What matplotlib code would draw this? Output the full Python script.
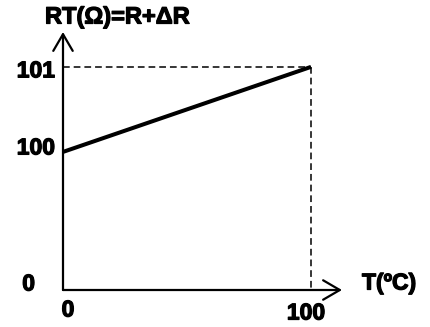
import numpy as np
import matplotlib.pyplot as plt
import matplotlib.patheffects as pe

# data
temp = [0, 100]
rt = [100, 101]
xtick_vals = [0, 100]
ytick_vals = [0, 100, 101]
ylabel = 'RT(Ω)=R+ΔR'
xlabel = 'T(ºC)'

# piecewise scale so that the 100..101 step is visible (schematic)
knots_v = [0, 100, 101, 102]
knots_p = [0, 138, 223, 308]

def fwd(v):
    return np.interp(v, knots_v, knots_p)

def inv(p):
    return np.interp(p, knots_p, knots_v)

plt.rcParams['font.family'] = 'Liberation Sans'
plt.rcParams['font.weight'] = 'bold'
fs = 16.5
thick = [pe.withStroke(linewidth=0.9, foreground='black')]

fig = plt.figure(figsize=(4.30, 3.27), dpi=100)
ax = fig.add_axes([63 / 430, 37 / 327, 279 / 430, 258 / 327])
ax.set_yscale('function', functions=(fwd, inv))
ax.set_xlim(0, 112.5)
ax.set_ylim(0, 101.41)
ax.axis('off')

# axes with arrows
arrow = dict(arrowstyle='->,head_length=0.6,head_width=0.35', mutation_scale=20,
             lw=1.6, color='black', shrinkA=0, shrinkB=0)
ax.annotate('', xy=(0, 101.41), xytext=(0, 0), arrowprops=arrow, annotation_clip=False)
ax.annotate('', xy=(112.5, 0), xytext=(0, 0), arrowprops=arrow, annotation_clip=False)

# dashed guides
ax.plot([0, temp[1]], [rt[1], rt[1]], color='black', lw=1.1, dashes=(4.4, 2.6))
ax.plot([temp[1], temp[1]], [rt[1], 0], color='black', lw=1.1, dashes=(4.4, 2.6))

# main line
ax.plot(temp, rt, color='black', lw=2.9, solid_capstyle='butt')

# tick labels
px = 0.72
y_off = {0: (-28, 6), 100: (-8, 4), 101: (-8, -4)}
for v in ytick_vals:
    dx, dy = y_off[v]
    ax.annotate(str(v), xy=(0, v), xytext=(dx * px, dy * px), textcoords='offset points',
                ha='right', va='center', fontsize=fs, fontweight='bold',
                annotation_clip=False, path_effects=thick)
x_off = {0: (5, -20), 100: (-5, -23)}
for v in xtick_vals:
    dx, dy = x_off[v]
    ax.annotate(str(v), xy=(v, 0), xytext=(dx * px, dy * px), textcoords='offset points',
                ha='center', va='center', fontsize=fs, fontweight='bold',
                annotation_clip=False, path_effects=thick)

fig.text(45 / 430, 1 - 17 / 327, ylabel, ha='left', va='center', fontsize=fs + 0.5,
         fontweight='bold', path_effects=thick)
fig.text(362 / 430, 1 - 283 / 327, xlabel, ha='left', va='center', fontsize=fs,
         fontweight='bold', path_effects=thick)

fig.savefig('out.png', dpi=100)
